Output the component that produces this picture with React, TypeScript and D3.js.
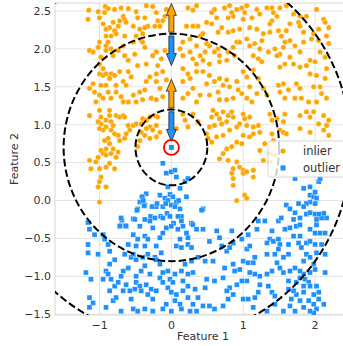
import * as d3 from "d3";

// inlier points (orange circles) in data units
const inliers: [number, number][] = [
  [-1.15, 2.51], [-1.16, 2.39], [-1.02, 2.49], [-1.0, 2.41], [-0.92, 2.56], [-0.88, 2.53], [-0.93, 2.48],
  [-0.79, 2.52], [-0.7, 2.54], [-0.6, 2.53], [-0.67, 2.43], [-0.65, 2.39], [-0.72, 2.37], [-0.63, 2.35],
  [-0.74, 2.3], [-0.81, 2.35], [-0.86, 2.28], [-0.91, 2.26], [-0.95, 2.33], [-0.79, 2.24], [-0.84, 2.17],
  [-0.77, 2.2], [-0.49, 2.49], [-0.47, 2.41], [-0.37, 2.41], [-0.35, 2.57], [-0.26, 2.56], [-0.21, 2.48],
  [-0.19, 2.37], [-0.23, 2.3], [-0.33, 2.3], [-0.37, 2.28], [-0.44, 2.26], [-0.53, 2.3], [-0.4, 2.2],
  [-0.49, 2.17], [-0.16, 2.3], [-0.12, 2.37], [-0.09, 2.43], [-0.07, 2.52], [0.23, 2.54], [0.3, 2.51],
  [0.35, 2.57], [0.21, 2.3], [0.3, 2.3], [0.37, 2.3], [0.4, 2.17],
  [-1.0, 2.09], [-0.91, 2.17], [-0.91, 2.04], [-0.88, 2.09], [-0.84, 2.0], [-0.91, 1.98], [-1.02, 2.02],
  [-1.14, 1.98], [-1.09, 1.96], [-0.98, 1.89], [-1.0, 1.8], [-0.95, 1.74], [-0.81, 1.91], [-0.74, 1.98],
  [-0.67, 2.04], [-0.65, 2.17], [-0.53, 2.09], [-0.42, 2.11], [-0.37, 2.02], [-0.4, 2.09], [-0.65, 1.91],
  [-0.6, 1.85], [-0.51, 1.93], [-0.47, 1.78], [-0.35, 1.8], [-0.26, 1.91], [-0.21, 1.96], [-0.09, 1.98],
  [-0.14, 1.87], [-0.19, 1.78], [-0.21, 1.67], [-0.12, 1.7], [0.16, 2.09], [0.26, 2.13], [0.35, 2.04],
  [0.12, 2.0], [0.16, 1.91], [0.26, 1.96], [0.3, 1.87], [0.35, 1.8], [0.16, 1.74], [0.23, 1.67],
  [0.35, 1.7], [0.4, 1.91],
  [-1.0, 1.67], [-0.95, 1.65], [-0.91, 1.67], [-0.84, 1.67], [-0.86, 1.61], [-0.79, 1.65], [-0.72, 1.7],
  [-0.67, 1.57], [-0.6, 1.7], [-0.56, 1.63], [-0.63, 1.52], [-0.77, 1.52], [-0.91, 1.52], [-0.98, 1.52],
  [-1.09, 1.54], [-1.14, 1.48], [-1.07, 1.43], [-1.0, 1.39], [-1.05, 1.3], [-0.95, 1.35], [-0.88, 1.43],
  [-0.84, 1.35], [-0.77, 1.43], [-0.7, 1.37], [-0.53, 1.39], [-0.44, 1.43], [-0.37, 1.46], [-0.35, 1.57],
  [-0.3, 1.63], [-0.21, 1.57], [-0.16, 1.48], [-0.12, 1.37], [-0.21, 1.33], [-0.28, 1.35], [-0.4, 1.33],
  [-0.49, 1.3], [-0.6, 1.3], [-0.67, 1.3], [0.16, 1.57], [0.26, 1.61], [0.3, 1.48], [0.23, 1.41],
  [0.35, 1.3], [0.4, 1.39], [0.16, 1.35], [-0.07, 1.59],
  [0.6, 2.52], [0.56, 2.48], [0.63, 2.41], [0.74, 2.54], [0.81, 2.57], [0.84, 2.48], [0.79, 2.41],
  [0.86, 2.43], [0.91, 2.52], [0.98, 2.54], [1.02, 2.48], [1.05, 2.57], [1.0, 2.39], [1.12, 2.41],
  [1.19, 2.52], [1.23, 2.46], [1.33, 2.54], [1.4, 2.54], [1.42, 2.48], [1.4, 2.37], [1.37, 2.33],
  [1.47, 2.43], [1.51, 2.54], [1.6, 2.57], [1.65, 2.33], [1.7, 2.46], [1.79, 2.43], [1.77, 2.35],
  [1.88, 2.43], [2.02, 2.52], [2.12, 2.39], [2.14, 2.35], [2.05, 2.26], [0.56, 2.33], [0.49, 2.35],
  [0.7, 2.28], [0.65, 2.22], [0.79, 2.22], [0.86, 2.24], [0.95, 2.26], [1.09, 2.28], [1.19, 2.26],
  [1.28, 2.2], [1.37, 2.22], [1.49, 2.24], [1.53, 2.17], [1.6, 2.24], [1.79, 2.3], [1.84, 2.22],
  [1.98, 2.2], [2.05, 2.11], [2.16, 2.17], [2.19, 2.28], [0.44, 2.2],
  [0.49, 2.07], [0.53, 2.04], [0.47, 1.96], [0.65, 2.0], [0.6, 1.96], [0.67, 1.91], [0.79, 1.96],
  [0.86, 2.02], [0.91, 2.09], [0.95, 2.09], [0.88, 1.91], [0.77, 1.85], [0.67, 1.83], [0.53, 1.8],
  [0.44, 1.85], [1.05, 2.13], [1.09, 2.04], [1.16, 2.07], [1.26, 2.11], [1.23, 2.0], [1.14, 1.91],
  [1.21, 1.87], [1.26, 1.83], [1.35, 1.96], [1.44, 2.0], [1.51, 1.93], [1.47, 1.91], [1.56, 2.02],
  [1.58, 2.09], [1.65, 2.11], [1.72, 2.04], [1.79, 1.96], [1.65, 1.89], [1.58, 1.8], [1.51, 1.76],
  [1.7, 1.8], [1.79, 1.76], [1.88, 1.78], [1.93, 1.85], [1.84, 2.09], [1.95, 2.13], [2.07, 1.96],
  [2.14, 1.89], [2.0, 1.83], [2.16, 1.74], [2.19, 2.07],
  [0.44, 1.7], [0.53, 1.65], [0.49, 1.54], [0.6, 1.57], [0.67, 1.61], [0.77, 1.59], [0.72, 1.52],
  [0.81, 1.5], [0.91, 1.57], [0.93, 1.46], [1.0, 1.7], [1.05, 1.63], [1.14, 1.72], [1.21, 1.61],
  [1.09, 1.5], [0.98, 1.41], [0.86, 1.35], [0.77, 1.33], [0.67, 1.33], [0.53, 1.39], [0.65, 1.43],
  [1.05, 1.35], [1.12, 1.3], [1.19, 1.41], [1.28, 1.48], [1.33, 1.39], [1.49, 1.52], [1.56, 1.54],
  [1.51, 1.43], [1.58, 1.35], [1.63, 1.46], [1.74, 1.54], [1.79, 1.48], [1.72, 1.35], [1.81, 1.35],
  [1.93, 1.67], [2.02, 1.65], [1.98, 1.5], [2.07, 1.5], [2.14, 1.61], [2.16, 1.35], [2.09, 1.41],
  [2.02, 1.3], [1.91, 1.3],
  [-1.14, 1.12], [-1.0, 1.19], [-0.98, 1.1], [-1.02, 1.04], [-0.98, 1.01], [-0.91, 1.06], [-0.86, 1.19],
  [-0.86, 1.12], [-0.84, 1.04], [-0.81, 0.99], [-0.77, 1.12], [-0.72, 1.1], [-0.67, 1.12], [-0.65, 1.1],
  [-0.91, 0.97], [-0.95, 0.93], [-1.0, 0.95], [-0.84, 0.93], [-0.79, 0.88], [-0.88, 0.82], [-0.93, 0.79],
  [-0.86, 0.75], [-0.81, 0.68], [-0.91, 0.68], [-0.98, 0.66], [-0.95, 0.62], [-1.02, 0.57], [-0.91, 0.6],
  [-0.84, 0.62], [-0.77, 0.57], [-0.74, 0.64], [-1.14, 0.53], [-1.05, 0.51], [-1.12, 0.42], [-1.0, 0.42],
  [-0.91, 0.44], [-0.86, 0.49], [-0.79, 0.42], [-0.98, 0.31], [-1.0, 0.25], [-1.02, 0.18], [-0.91, 0.18],
  [-1.0, -0.02], [-0.74, 0.86], [-0.72, 0.79], [-0.65, 0.82], [-0.63, 0.88], [-0.58, 0.93], [-0.6, 0.99],
  [-0.53, 0.99], [-0.49, 1.01], [-0.42, 1.01], [-0.4, 1.08], [-0.35, 1.06], [-0.3, 1.1], [-0.23, 1.12],
  [-0.19, 1.1], [-0.21, 0.99], [-0.3, 0.97], [-0.35, 0.95], [-0.26, 0.93], [-0.37, 0.86], [-0.3, 0.82],
  [-0.21, 0.84], [-0.16, 0.9], [-0.42, 0.9], [-0.44, 0.79], [-0.47, 0.71], [0.16, 1.14], [0.19, 1.06],
  [0.23, 0.97], [0.3, 1.14], [0.37, 1.04], [0.07, 0.95],
  [0.58, 1.19], [0.63, 1.14], [0.56, 1.1], [0.67, 1.08], [0.72, 1.17], [0.79, 1.12], [0.84, 1.17],
  [0.86, 1.1], [0.77, 1.04], [0.7, 1.01], [0.6, 0.99], [0.53, 0.97], [0.49, 0.88], [0.51, 0.82],
  [0.56, 0.77], [0.63, 0.84], [0.72, 0.86], [0.81, 0.93], [0.91, 0.97], [0.95, 1.01], [1.02, 1.08],
  [1.0, 1.14], [1.09, 1.1], [1.05, 0.99], [1.14, 0.97], [1.21, 0.99], [1.23, 0.9], [1.14, 0.88],
  [1.09, 0.84], [1.0, 0.86], [0.98, 0.75], [0.91, 0.77], [0.84, 0.71], [0.77, 0.68], [0.72, 0.62],
  [0.67, 0.55], [0.79, 0.53], [0.91, 0.51], [0.95, 0.44], [1.0, 0.4], [0.86, 0.42], [0.84, 0.36],
  [0.86, 0.29], [0.86, 0.2], [1.0, 0.36], [1.05, 0.38], [1.14, 0.4], [1.14, 0.31], [1.23, 0.66],
  [1.28, 0.53], [1.3, 0.75], [1.42, 0.79], [1.4, 0.88], [1.51, 0.93], [1.56, 0.9], [1.6, 0.88],
  [1.58, 1.14], [1.56, 1.04], [1.47, 1.08], [1.4, 1.06], [1.37, 1.14], [1.79, 1.12], [1.88, 1.17],
  [1.93, 1.1], [1.98, 1.17], [2.12, 1.12], [2.16, 0.99], [2.12, 0.93], [1.93, 0.9], [1.79, 0.95],
  [2.19, 0.86], [2.19, 1.06], [2.05, 1.01], [0.91, 0.0], [1.02, 0.07], [1.05, 0.03], [1.37, 0.62],
  [1.37, 0.51], [1.44, 0.6],
];

// outlier points (blue squares)
const outliers: [number, number][] = [
  [-0.12, 0.49], [0.0, 0.38], [0.05, 0.4], [-0.07, 0.36], [0.07, 0.31], [0.19, 0.25], [0.23, 0.29],
  [-0.05, 0.18], [0.12, 0.16], [-0.35, 0.09], [-0.4, 0.05], [-0.44, -0.02], [-0.37, -0.06], [-0.47, -0.11],
  [-0.16, 0.07], [-0.09, 0.03], [-0.05, 0.0], [-0.02, 0.08], [0.02, 0.05], [0.07, -0.02], [0.0, -0.06],
  [0.05, -0.08], [0.12, -0.11], [-0.21, -0.08], [-0.12, -0.08],
  [1.56, 0.44], [1.72, 0.29], [1.84, 0.16], [1.93, 0.18], [2.05, 0.25], [2.07, 0.29], [2.0, 0.11],
  [1.93, 0.07], [1.98, 0.05], [2.02, 0.03], [1.93, -0.02], [2.0, -0.04], [1.88, -0.04], [1.77, -0.04],
  [1.6, -0.06], [1.65, -0.11], [1.84, -0.08], [0.44, -0.11], [2.02, 0.62],
  [-0.41, 0.05], [-0.39, 0.0], [-0.48, -0.13], [-0.38, -0.07], [-0.27, -0.08], [-0.2, -0.04],
  [-0.08, -0.04], [-0.06, -0.17], [-0.15, -0.21], [-0.29, -0.21], [-0.69, -0.26], [-0.71, -0.33],
  [-0.64, -0.33], [-0.53, -0.24], [0.1, 0.0], [0.21, 0.05], [0.42, -0.13], [0.14, -0.21], [0.28, -0.3],
  [0.03, -0.3],
  [-1.16, -0.29], [-1.14, -0.38], [-1.07, -0.45], [-1.16, -0.58], [-1.02, -0.71], [-1.16, -0.69],
  [-0.95, -0.45], [-0.93, -0.51], [-0.88, -0.58], [-0.86, -0.67], [-0.79, -0.78], [-0.86, -0.84],
  [-0.91, -0.93], [-0.88, -0.97], [-0.95, -1.04], [-0.84, -1.04], [-0.79, -1.13], [-0.86, -1.19],
  [-1.19, -0.95], [-1.12, -1.04], [-1.14, -1.28], [-1.09, -1.35], [-1.14, -1.41], [-0.91, -1.41],
  [-0.81, -1.32], [-0.7, -1.46], [-0.7, -0.23], [-0.63, -0.34], [-0.72, -0.34], [-0.51, -0.25],
  [-0.44, -0.34], [-0.37, -0.25], [-0.3, -0.27], [-0.23, -0.23], [-0.37, -0.47], [-0.47, -0.51],
  [-0.49, -0.6], [-0.37, -0.6], [-0.33, -0.71], [-0.4, -0.75], [-0.49, -0.78], [-0.56, -0.75],
  [-0.6, -0.89], [-0.67, -0.93], [-0.7, -1.0], [-0.74, -1.08], [-0.63, -1.11], [-0.58, -1.19],
  [-0.49, -1.08], [-0.44, -1.13], [-0.51, -1.17], [-0.42, -1.19], [-0.35, -1.11], [-0.28, -1.17],
  [-0.33, -1.24], [-0.26, -1.3], [-0.21, -1.19], [-0.56, -1.3], [-0.53, -1.43], [-0.47, -1.46],
  [-0.37, -1.43], [-0.26, -1.46], [-0.12, -0.23], [-0.02, -0.21], [-0.07, -0.36], [0.0, -0.34],
  [-0.12, -0.43], [-0.16, -0.49], [-0.21, -0.6], [-0.14, -0.69], [-0.23, -0.75], [-0.16, -0.84],
  [-0.12, -0.95], [-0.05, -0.93], [0.05, -0.97], [-0.02, -1.04], [0.02, -1.08], [-0.05, -1.15],
  [0.0, -1.21], [0.07, -1.24], [0.05, -1.32], [-0.07, -1.37], [-0.12, -1.43], [0.0, -1.46],
  [0.12, -1.37], [0.14, -1.43], [0.09, -0.21], [0.14, -0.27], [0.16, -0.34], [0.09, -0.38],
  [0.21, -0.43], [0.23, -0.49], [0.12, -0.51], [0.07, -0.6], [0.14, -0.62], [0.23, -0.58],
  [0.3, -0.32], [0.35, -0.38], [0.28, -0.62], [0.37, -0.75], [0.28, -0.8], [0.19, -0.84],
  [0.14, -0.93], [0.23, -0.97], [0.3, -0.95], [0.16, -1.06], [0.23, -1.13], [0.33, -1.17],
  [0.16, -1.19], [0.23, -1.28], [0.3, -1.37], [0.26, -1.46], [0.37, -1.28], [0.35, -1.46],
  [-0.26, -0.36], [-0.33, -0.51], [-0.21, -0.78], [-0.53, -0.71], [-0.42, -0.93], [-0.49, -1.0],
  [-0.67, -1.19], [-0.77, -1.28], [-0.16, -1.02], [-0.12, -1.08], [-0.3, -0.97], [-0.37, -0.86],
  [-0.6, -0.58], [-0.53, -0.45], [-0.65, -0.71],
  [0.44, -0.38], [0.53, -0.54], [0.47, -0.8], [0.58, -0.8], [0.49, -1.04], [0.6, -1.06], [0.47, -1.15],
  [0.44, -1.39], [0.6, -1.43], [0.63, -0.4], [0.67, -0.49], [0.7, -0.6], [0.77, -0.67], [0.84, -0.4],
  [0.86, -0.56], [0.81, -0.62], [0.74, -0.89], [0.86, -0.84], [0.88, -0.93], [0.95, -0.91], [1.0, -0.8],
  [1.07, -0.82], [1.14, -0.82], [1.16, -0.75], [1.05, -0.64], [1.09, -0.6], [0.98, -0.51], [1.07, -0.45],
  [1.19, -0.38], [1.21, -0.27], [1.3, -0.27], [1.37, -0.51], [1.33, -0.56], [1.42, -0.54], [1.49, -0.51],
  [1.51, -0.58], [1.44, -0.71], [1.47, -0.82], [1.51, -0.89], [1.56, -0.95], [1.4, -0.93], [1.33, -0.97],
  [1.23, -1.0], [1.16, -0.97], [1.09, -0.95], [1.05, -1.06], [0.98, -1.06], [0.91, -1.11], [0.81, -1.15],
  [0.77, -1.19], [0.72, -1.02], [0.86, -1.24], [0.79, -1.3], [0.72, -1.39], [0.53, -1.39], [1.0, -1.3],
  [1.07, -1.3], [1.16, -1.28], [1.21, -1.21], [1.23, -1.11], [1.35, -1.13], [1.4, -1.21], [1.44, -1.37],
  [1.33, -1.46], [1.14, -1.41], [1.49, -0.27], [1.53, -0.23], [1.58, -0.38], [1.65, -0.36], [1.7, -0.25],
  [1.74, -0.34], [1.79, -0.23], [1.88, -0.18], [2.0, -0.18], [2.02, -0.25], [2.09, -0.23], [2.16, -0.23],
  [1.93, -0.38], [2.0, -0.43], [2.07, -0.43], [2.14, -0.43], [1.79, -0.47], [1.77, -0.56], [1.81, -0.62],
  [1.88, -0.56], [1.93, -0.54], [2.0, -0.58], [2.02, -0.69], [1.88, -0.71], [1.84, -0.8], [1.93, -0.75],
  [1.98, -0.84], [2.0, -0.91], [1.93, -0.95], [1.84, -0.97], [1.79, -0.93], [1.72, -0.89], [1.65, -0.93],
  [1.63, -1.06], [1.74, -1.08], [1.79, -1.02], [1.86, -1.04], [1.91, -1.08], [1.93, -1.13], [2.02, -1.13],
  [2.05, -1.21], [1.98, -1.24], [1.84, -1.21], [1.74, -1.24], [1.7, -1.19], [1.67, -1.3], [1.79, -1.32],
  [1.91, -1.32], [1.98, -1.37], [2.02, -1.43], [2.12, -1.37], [2.05, -1.3], [2.14, -0.95], [2.14, -0.71],
  [1.63, -0.71], [1.56, -0.75], [1.63, -0.58], [1.4, -0.4], [1.49, -0.64], [1.33, -0.71], [1.65, -1.39],
  [1.72, -1.46], [1.56, -1.46], [1.84, -1.41], [1.98, -1.48], [1.93, -1.46], [1.84, -1.13], [1.63, -1.17],
  [1.44, -1.26], [1.93, -0.16], [2.02, -0.32], [1.72, -0.16], [2.05, -0.18], [2.12, -0.17], [1.79, -0.32],
  [1.7, -0.47], [2.09, -0.58],
];

const center: [number, number] = [0, 0.7];
const radii = [0.5, 1.5, 2.5];
const arrowFrom = [2.22, 2.17, 1.22, 1.17];
const arrowTo = [2.6, 1.78, 1.6, 0.78];
const arrowKind = ["inlier", "outlier", "inlier", "outlier"];
const xTicks = [-1, 0, 1, 2];
const yTicks = [-1.5, -1.0, -0.5, 0.0, 0.5, 1.0, 1.5, 2.0, 2.5];
const legendLabels = ["inlier", "outlier"];

const W = 343;
const H = 346;
const ORANGE = "#FFA500";
const BLUE = "#1E90FF";
const TEXT = "#333333";
const FONT = "DejaVu Sans, sans-serif";

function arrowPath(x0: number, yFrom: number, yTo: number) {
  // shaft 5px, head 10px wide, 12px long
  const dir = yTo < yFrom ? -1 : 1; // pixel direction
  const len = Math.abs(yTo - yFrom);
  const head = Math.min(12, len);
  const hw = 5;
  const sw = 2.5;
  const yNeck = yTo - dir * head;
  return [
    `M${x0 - sw},${yFrom}`,
    `L${x0 - sw},${yNeck}`,
    `L${x0 - hw},${yNeck}`,
    `L${x0},${yTo}`,
    `L${x0 + hw},${yNeck}`,
    `L${x0 + sw},${yNeck}`,
    `L${x0 + sw},${yFrom}`,
    "Z",
  ].join(" ");
}

export default function App() {
  const left = 55;
  const top = 3;
  const bottom = 315;
  const x = d3.scaleLinear().domain([-1.62, 2.5]).range([left, 351]);
  const y = d3.scaleLinear().domain([-1.51, 2.605]).range([bottom, top]);
  const right = W;

  const fmtY = d3.format(".1f");
  const fmtX = d3.format("d");

  const cx = x(center[0]);
  const cy = y(center[1]);

  return (
    <svg
      width={W}
      height={H}
      style={{ position: "absolute", left: 0, top: 0, background: "white" }}
    >
      <defs>
        <clipPath id="plot">
          <rect x={left} y={top} width={right - left} height={bottom - top} />
        </clipPath>
      </defs>

      {/* grid */}
      {xTicks.map((t) => (
        <line key={"gx" + t} x1={x(t)} x2={x(t)} y1={top} y2={bottom} stroke="#e3e3e3" strokeWidth={1} />
      ))}
      {yTicks.map((t) => (
        <line key={"gy" + t} x1={left} x2={right} y1={y(t)} y2={y(t)} stroke="#e3e3e3" strokeWidth={1} />
      ))}
      {/* spines */}
      <line x1={left} x2={left} y1={top} y2={bottom} stroke="#d6d6d6" />
      <line x1={left} x2={right} y1={top} y2={top} stroke="#d6d6d6" />
      <line x1={left} x2={right} y1={bottom} y2={bottom} stroke="#d6d6d6" />

      <g clipPath="url(#plot)">
        {inliers.map((d, i) => (
          <circle key={"i" + i} cx={x(d[0])} cy={y(d[1])} r={2.6} fill={ORANGE} stroke="white" strokeWidth={0.3} />
        ))}
        {outliers.map((d, i) => (
          <rect
            key={"o" + i}
            x={x(d[0]) - 2.5}
            y={y(d[1]) - 2.5}
            width={5}
            height={5}
            fill={BLUE}
            stroke="white"
            strokeWidth={0.3}
          />
        ))}
        {/* the inspected point */}
        <rect x={cx - 2.5} y={cy - 2.5} width={5} height={5} fill={BLUE} />

        {radii.map((r) => (
          <ellipse
            key={"c" + r}
            cx={cx}
            cy={cy}
            rx={x(center[0] + r) - cx}
            ry={cy - y(center[1] + r)}
            fill="none"
            stroke="black"
            strokeWidth={2}
            strokeDasharray="7.4 3.2"
          />
        ))}

        {arrowFrom.map((a, i) => (
          <path
            key={"a" + i}
            d={arrowPath(x(0), y(a), y(arrowTo[i]))}
            fill={arrowKind[i] === "inlier" ? ORANGE : BLUE}
            stroke="#222"
            strokeWidth={0.8}
            strokeLinejoin="miter"
          />
        ))}

        <circle cx={cx} cy={cy} r={7.5} fill="none" stroke="#ff0000" strokeWidth={1.8} />
      </g>

      {/* tick labels */}
      {yTicks.map((t) => (
        <text
          key={"ty" + t}
          x={left - 4}
          y={y(t)}
          dy="0.35em"
          textAnchor="end"
          fontSize={11}
          fontFamily={FONT}
          fill={TEXT}
        >
          {fmtY(t)}
        </text>
      ))}
      {xTicks.map((t) => (
        <text
          key={"tx" + t}
          x={x(t)}
          y={bottom + 14}
          textAnchor="middle"
          fontSize={11}
          fontFamily={FONT}
          fill={TEXT}
        >
          {fmtX(t)}
        </text>
      ))}

      {/* axis labels */}
      <text x={(left + 351) / 2} y={340} textAnchor="middle" fontSize={11} fontFamily={FONT} fill={TEXT}>
        Feature 1
      </text>
      <text
        transform={`translate(18,${(top + bottom) / 2}) rotate(-90)`}
        textAnchor="middle"
        fontSize={11}
        fontFamily={FONT}
        fill={TEXT}
      >
        Feature 2
      </text>

      {/* legend */}
      <g>
        <rect
          x={268}
          y={141}
          width={90}
          height={36}
          rx={3}
          fill="white"
          fillOpacity={0.8}
          stroke="#cccccc"
          strokeOpacity={0.8}
        />
        {legendLabels.map((lab, i) => (
          <g key={lab} transform={`translate(283,${151 + i * 17})`}>
            {i === 0 ? (
              <circle r={2.6} fill={ORANGE} />
            ) : (
              <rect x={-2.5} y={-2.5} width={5} height={5} fill={BLUE} />
            )}
            <text x={20} dy="0.35em" fontSize={11.5} fontFamily={FONT} fill={TEXT}>
              {lab}
            </text>
          </g>
        ))}
      </g>
    </svg>
  );
}
